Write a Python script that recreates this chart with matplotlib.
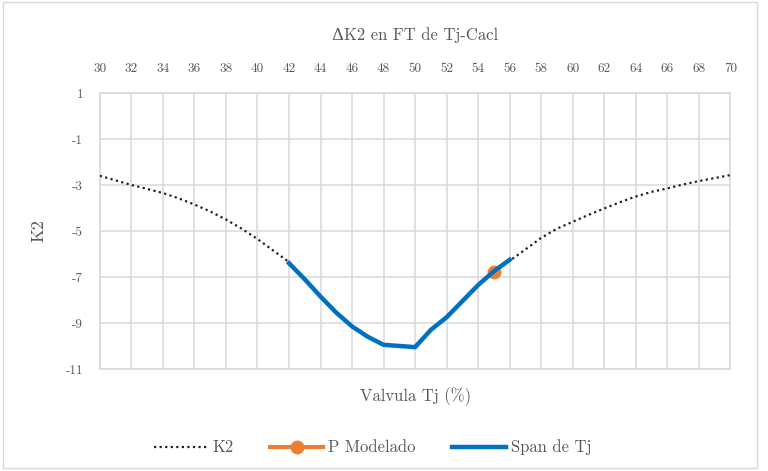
import matplotlib.pyplot as plt
from matplotlib.patches import Rectangle

# datos
valvula = list(range(30, 71))
k2 = [-2.6, -2.8, -3.0, -3.17, -3.35, -3.58, -3.85, -4.15, -4.5, -4.9,
      -5.35, -5.85, -6.35, -7.1, -7.85, -8.55, -9.15, -9.6, -9.95, -10.0,
      -10.05, -9.3, -8.75, -8.05, -7.35, -6.8, -6.3, -5.8, -5.3, -4.9,
      -4.6, -4.3, -4.02, -3.75, -3.5, -3.3, -3.15, -2.98, -2.83, -2.7, -2.57]

span_x = [42, 43, 44, 45, 46, 47, 48, 49, 50, 51, 52, 53, 54, 55, 56]
span_y = [-6.4, -7.1, -7.85, -8.55, -9.15, -9.6, -9.95, -10.0, -10.05,
          -9.3, -8.75, -8.05, -7.35, -6.75, -6.25]

p_x = [55]
p_y = [-6.8]

xticks = list(range(30, 71, 2))
yticks = [1, -1, -3, -5, -7, -9, -11]

plt.rcParams['font.family'] = ['cmr10', 'DejaVu Serif']
plt.rcParams['axes.unicode_minus'] = False
gris = '#595959'

fig = plt.figure(figsize=(7.68, 4.71), dpi=100)
ax = fig.add_axes([0.130, 0.2166, 0.821, 0.586])

ax.plot(valvula, k2, color='#222222', linestyle=(0, (1, 1.5)), linewidth=1.6, label='K2', zorder=3)
ax.plot(p_x, p_y, color='#ED7D31', marker='o', markersize=9, linewidth=3, label='P Modelado', zorder=4)
ax.plot(span_x, span_y, color='#0070C0', linewidth=3.2, label='Span de Tj', zorder=5)

ax.set_xlim(30, 70)
ax.set_ylim(-11, 1)
ax.set_xticks(xticks)
ax.set_xticklabels([str(v) for v in xticks])
ax.set_yticks(yticks)
ax.set_yticklabels([str(v) for v in yticks])
ax.xaxis.tick_top()
ax.tick_params(axis='x', length=0, labelsize=9.5, colors=gris, pad=13)
ax.tick_params(axis='y', length=0, labelsize=9.5, colors=gris, pad=12)
ax.grid(True, color='#d9d9d9', linewidth=1.1)
ax.set_axisbelow(True)
for s in ax.spines.values():
    s.set_color('#d9d9d9')
    s.set_linewidth(1.1)

ax.set_title('\u0394K2 en FT de Tj-Cacl', fontsize=12, color=gris, pad=38)
ax.set_xlabel('Valvula Tj (%)', fontsize=12, color=gris, labelpad=13)
ax.set_ylabel('K2', fontsize=13, color=gris, labelpad=14)

leg = fig.legend(loc='center', bbox_to_anchor=(0.485, 0.05), ncol=3, frameon=False,
                 fontsize=12, handlelength=3.2, columnspacing=2.2, handletextpad=0.3)
for t in leg.get_texts():
    t.set_color(gris)

fig.patches.append(Rectangle((0.004, 0.006), 0.982, 0.99, transform=fig.transFigure,
                             fill=False, edgecolor='#d9d9d9', linewidth=1))

fig.savefig('out.png', dpi=100)
